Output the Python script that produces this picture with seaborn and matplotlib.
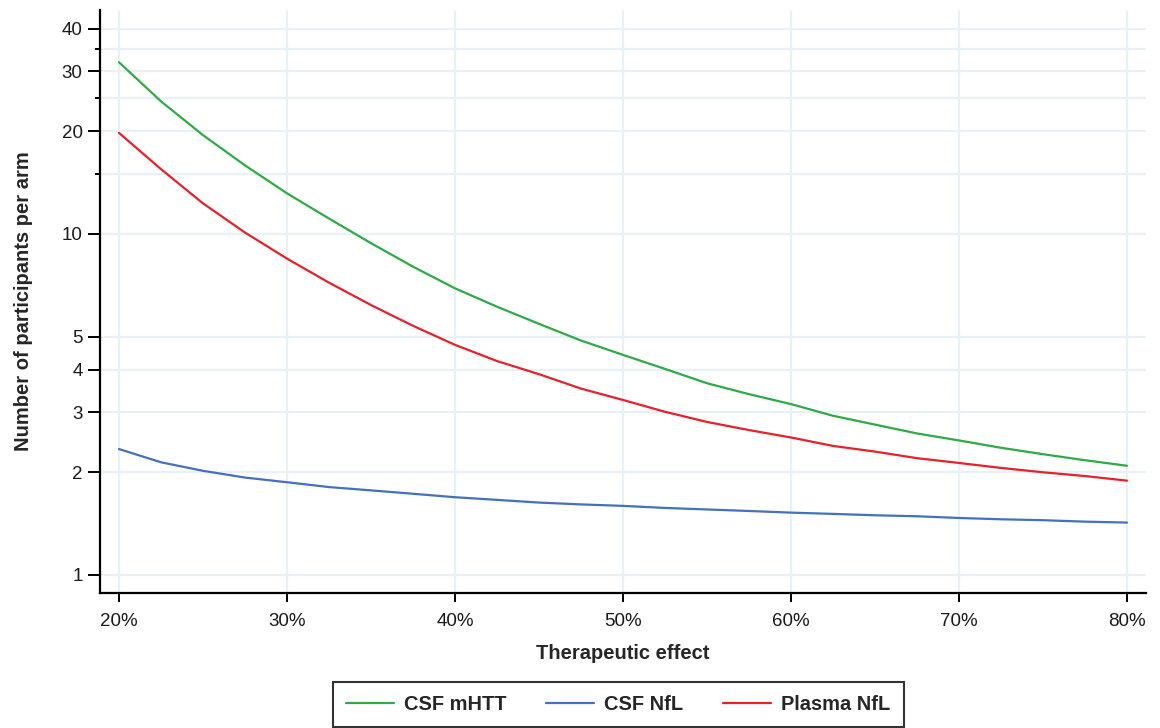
import numpy as np
import pandas as pd
import matplotlib
matplotlib.use("Agg")
import matplotlib.pyplot as plt
import seaborn as sns
from matplotlib.ticker import FixedLocator, FixedFormatter, NullFormatter

effect = [20, 22.5, 25, 27.5, 30, 32.5, 35, 37.5, 40, 42.5, 45, 47.5, 50,
          52.5, 55, 57.5, 60, 62.5, 65, 67.5, 70, 72.5, 75, 77.5, 80]
csf_mhtt = [31.9, 24.5, 19.5, 15.9, 13.16, 11.1, 9.4, 8.02, 6.93, 6.12, 5.45, 4.87, 4.42,
            4.02, 3.65, 3.39, 3.17, 2.93, 2.76, 2.60, 2.48, 2.36, 2.26, 2.17, 2.09]
csf_nfl = [2.34, 2.14, 2.02, 1.93, 1.87, 1.81, 1.77, 1.73, 1.69, 1.66, 1.63, 1.61, 1.594,
           1.572, 1.556, 1.54, 1.523, 1.51, 1.496, 1.486, 1.469, 1.456, 1.447, 1.433, 1.424]
plasma_nfl = [19.8, 15.5, 12.3, 10.1, 8.47, 7.20, 6.19, 5.38, 4.73, 4.24, 3.88, 3.52, 3.26,
              3.01, 2.81, 2.66, 2.53, 2.39, 2.30, 2.20, 2.13, 2.06, 2.00, 1.95, 1.89]
series_names = ["CSF mHTT", "CSF NfL", "Plasma NfL"]
colors = ["#2eaa46", "#4470c0", "#e8202a"]

y_major = [1, 2, 3, 4, 5, 10, 20, 30, 40]
y_minor = [15, 25, 35]
x_ticks = [20, 30, 40, 50, 60, 70, 80]
x_labels = ["20%", "30%", "40%", "50%", "60%", "70%", "80%"]

df = pd.concat([
    pd.DataFrame({"effect": effect, "n": vals, "marker": name})
    for name, vals in zip(series_names, [csf_mhtt, csf_nfl, plasma_nfl])
])

sns.set_style("white")
plt.rcParams["font.family"] = ["Liberation Sans", "DejaVu Sans"]

fig = plt.figure(figsize=(11.6, 7.28), dpi=100)
ax = fig.add_axes([100/1160, 1 - 593/728, 1046/1160, 583/728])

sns.lineplot(data=df, x="effect", y="n", hue="marker", hue_order=series_names,
             palette=colors, linewidth=1.6, ax=ax, legend=True)

ax.set_yscale("log")
ax.set_ylim(0.885, 45.4)
ax.set_xlim(18.87, 81.13)

ax.yaxis.set_major_locator(FixedLocator(y_major))
ax.yaxis.set_major_formatter(FixedFormatter([str(v) for v in y_major]))
ax.yaxis.set_minor_locator(FixedLocator(y_minor))
ax.yaxis.set_minor_formatter(NullFormatter())
ax.set_xticks(x_ticks)
ax.set_xticklabels(x_labels)

gridc = "#e9f1f6"
ax.grid(True, which="major", axis="both", color=gridc, linewidth=1.6, zorder=0)
ax.grid(True, which="minor", axis="y", color=gridc, linewidth=1.6, zorder=0)
ax.set_axisbelow(True)

for s in ["top", "right"]:
    ax.spines[s].set_visible(False)
for s in ["left", "bottom"]:
    ax.spines[s].set_color("black")
    ax.spines[s].set_linewidth(1.6)

ax.tick_params(axis="y", which="major", length=8.5, width=1.4, color="black",
               labelsize=13.5, labelcolor="#1a1a1a", direction="out", left=True, pad=4)
ax.tick_params(axis="y", which="minor", length=3.8, width=1.4, color="black", left=True, direction="out")
ax.tick_params(axis="x", which="major", length=6.5, width=1.4, color="black",
               labelsize=13.5, labelcolor="#1a1a1a", direction="out", bottom=True, pad=8)

ax.set_xlabel("Therapeutic effect", fontsize=14.5, fontweight="bold", labelpad=10)
ax.set_ylabel("Number of participants per arm", fontsize=14.5, fontweight="bold", labelpad=14)
ax.yaxis.set_label_coords(-67/1046, 0.5)

handles, labels = ax.get_legend_handles_labels()
ax.get_legend().remove()
leg = fig.legend(handles, labels, loc="lower center", bbox_to_anchor=(0.533, 0.0015),
                 ncol=3, frameon=True, fancybox=False, edgecolor="black",
                 prop={"weight": "bold", "size": 14.4}, handlelength=2.4,
                 columnspacing=2.0, borderpad=0.65, handletextpad=0.5, borderaxespad=0)
leg.get_frame().set_linewidth(1.5)
for lh in leg.get_lines():
    lh.set_linewidth(1.6)

fig.savefig("out.png", dpi=100)
